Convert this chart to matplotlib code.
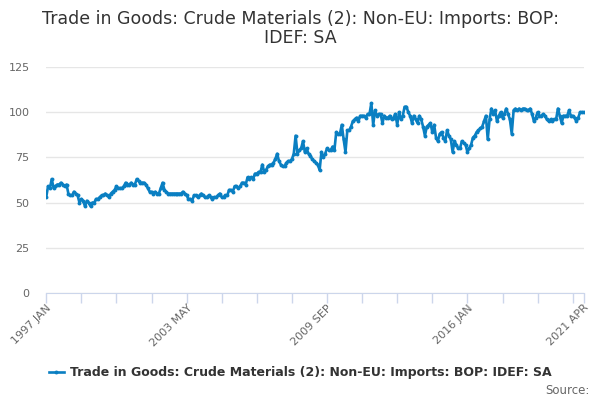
import matplotlib
matplotlib.use("Agg")
import matplotlib.pyplot as plt

title = "Trade in Goods: Crude Materials (2): Non-EU: Imports: BOP:\nIDEF: SA"
series_name = "Trade in Goods: Crude Materials (2): Non-EU: Imports: BOP: IDEF: SA"

values_1997_2001 = [
    53, 59, 58, 63, 58, 59, 60, 60, 61, 60, 59, 60,
    55, 54, 54, 56, 55, 54, 50, 52, 51, 48, 51, 50,
    48, 50, 50, 52, 52, 53, 54, 54, 55, 54, 53, 55,
    56, 57, 59, 58, 58, 58, 59, 61, 60, 60, 61, 60,
    60, 63, 62, 61, 61, 61, 60, 58, 56, 56, 55, 56,
]
values_2002_2006 = [
    55, 55, 58, 61, 57, 56, 55, 55, 55, 55, 55, 55,
    55, 55, 56, 55, 54, 52, 52, 51, 54, 54, 53, 54,
    55, 54, 53, 53, 54, 53, 52, 53, 53, 54, 55, 53,
    53, 54, 54, 57, 57, 56, 59, 59, 58, 59, 61, 61,
    60, 64, 63, 64, 63, 66, 66, 67, 67, 71, 67, 68,
]
values_2007_2011 = [
    70, 71, 71, 72, 74, 77, 73, 71, 70, 70, 72, 73,
    73, 74, 77, 87, 77, 79, 80, 84, 78, 80, 77, 76,
    74, 73, 72, 71, 68, 78, 75, 77, 80, 79, 79, 81,
    79, 89, 88, 88, 93, 85, 78, 90, 90, 92, 95, 96,
    97, 95, 98, 98, 98, 97, 99, 99, 105, 93, 101, 98,
]
values_2012_2016 = [
    99, 99, 94, 98, 97, 97, 98, 96, 97, 99, 93, 100,
    96, 98, 103, 103, 100, 98, 94, 98, 96, 94, 98, 96,
    92, 87, 92, 93, 94, 89, 93, 86, 84, 88, 89, 86,
    84, 90, 87, 85, 78, 84, 82, 80, 80, 84, 83, 82,
    78, 80, 82, 86, 87, 89, 90, 91, 92, 95, 98, 85,
]
values_2017_2021 = [
    96, 102, 99, 101, 95, 98, 100, 97, 99, 102, 99, 96,
    88, 101, 102, 101, 102, 101, 102, 102, 101, 101, 102, 99,
    95, 97, 100, 98, 98, 99, 98, 96, 95, 96, 95, 96,
    96, 102, 98, 94, 98, 98, 98, 101, 98, 98, 97, 95,
    97, 100, 100, 100,
]
values = values_1997_2001 + values_2002_2006 + values_2007_2011 + values_2012_2016 + values_2017_2021

month_names = ["JAN", "FEB", "MAR", "APR", "MAY", "JUN", "JUL", "AUG", "SEP", "OCT", "NOV", "DEC"]
categories = [f"{1997 + i // 12} {month_names[i % 12]}" for i in range(len(values))]

y_ticks = [0, 25, 50, 75, 100, 125]
label_step = 76
tick_step = 19

line_color = "#0a7fc2"
text_color = "#333333"
axis_color = "#ccd6eb"
grid_color = "#e6e6e6"

fig = plt.figure(figsize=(6, 4), dpi=100)
ax = fig.add_axes([0.077, 0.2675, 0.896, 0.565])

x = list(range(len(values)))
ax.plot(x, values, color=line_color, lw=1.9, marker="o", ms=2.8, mew=0,
        label=series_name, solid_joinstyle="round")

n = len(values)
ax.set_xlim(0, n - 1)
ax.set_ylim(0, 125)
ax.set_yticks(y_ticks)
ax.yaxis.grid(True, color=grid_color, lw=1)
ax.set_axisbelow(True)
ax.tick_params(axis="y", length=0, pad=12, labelsize=8, labelcolor="#666666")

minor_ticks = list(range(0, n, tick_step)) + [n - 1]
ax.set_xticks(minor_ticks, minor=True)
label_idx = list(range(0, n, label_step)) + [n - 1]
if label_idx[-2] == label_idx[-1]:
    label_idx = label_idx[:-1]
ax.set_xticks(label_idx)
ax.set_xticklabels([categories[i] for i in label_idx], rotation=45, ha="right",
                   rotation_mode="anchor", fontsize=8, color="#666666")
ax.tick_params(axis="x", which="both", length=7, color=axis_color, width=1)
ax.tick_params(axis="x", which="major", pad=0)

for s in ["top", "right", "left"]:
    ax.spines[s].set_visible(False)
ax.spines["bottom"].set_color(axis_color)

fig.suptitle(title, y=0.975, fontsize=12.5, color=text_color, linespacing=1.1)

leg = fig.legend(loc="center", bbox_to_anchor=(0.5, 0.068), frameon=False,
                 prop={"size": 9, "weight": "bold"}, handlelength=1.2,
                 handletextpad=0.5, labelcolor=text_color)

fig.text(0.983, 0.025, "Source:", ha="right", va="center", fontsize=8.5, color="#666666")

fig.savefig("out.png", dpi=100)
